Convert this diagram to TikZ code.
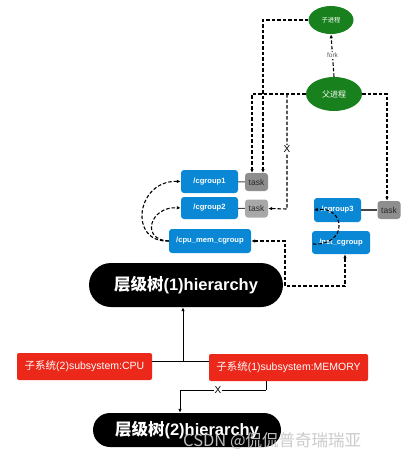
\documentclass[tikz,border=0pt]{standalone}
\usepackage{fontspec}
\setmainfont{Liberation Sans}
\newfontfamily\cjk{Noto Sans CJK SC}
\usetikzlibrary{shapes.geometric,arrows.meta}
\definecolor{cgblue}{RGB}{10,136,214}
\definecolor{pgreen}{RGB}{24,128,28}
\definecolor{ssred}{RGB}{236,40,26}
\definecolor{taskdark}{RGB}{142,142,142}
\definecolor{tasklight}{RGB}{168,168,168}
\tikzset{
  cgbox/.style={rectangle, rounded corners=3pt, fill=cgblue, text=white, inner sep=0pt,
    font=\fontsize{7.6}{10}\selectfont\bfseries},
  taskbox/.style={rectangle, rounded corners=3pt, inner sep=0pt, minimum width=23pt, minimum height=18pt,
    text={rgb,255:red,40;green,40;blue,40}, font=\fontsize{8.5}{10}\selectfont},
  proc/.style={ellipse, fill=pgreen, text=white, inner sep=0pt},
  hier/.style={rectangle, rounded corners=17pt, fill=black, text=white, inner sep=0pt,
    font=\fontsize{16.5}{19}\selectfont\bfseries},
  ssbox/.style={rectangle, rounded corners=2pt, fill=ssred, text=white, inner sep=0pt,
    minimum height=27pt, font=\fontsize{10.5}{12}\selectfont},
  dline/.style={draw=black, line width=1.1pt, dash pattern=on 3.5pt off 2pt},
  tip/.style={-{Latex[length=4pt,width=3.5pt]}},
  link/.style={draw={rgb,255:red,70;green,70;blue,70}, line width=1.1pt},
  sline/.style={draw=black, line width=0.9pt},
  xlabel/.style={fill=white, inner sep=1pt, font=\fontsize{10}{12}\selectfont}
}
\begin{document}
\begin{tikzpicture}[x=1pt,y=-1pt]
\useasboundingbox (0,0) rectangle (410,461);
% processes
\node[proc, minimum width=45pt, minimum height=28pt, font=\cjk\fontsize{6.3}{7}\selectfont] (child) at (331,20) {子进程};
\node[proc, minimum width=56pt, minimum height=34pt, font=\cjk\fontsize{8}{9}\selectfont] (parent) at (334,94) {父进程};
% cgroups
\node[cgbox, minimum width=57pt, minimum height=23pt] (cg1) at (209.5,181.5) {/cgroup1};
\node[taskbox, fill=taskdark] (t1) at (256.5,182) {task};
\node[cgbox, minimum width=57pt, minimum height=22pt] (cg2) at (209.5,208) {/cgroup2};
\node[taskbox, fill=tasklight] (t2) at (256.5,208.5) {task};
\node[cgbox, minimum width=82pt, minimum height=24pt] (cpumem) at (210,241) {/cpu\_mem\_cgroup};
\node[cgbox, minimum width=47pt, minimum height=24pt] (cg3) at (337.5,210) {/cgroup3};
\node[taskbox, fill=taskdark] (t3) at (389,210) {task};
\node[cgbox, minimum width=58pt, minimum height=23pt] (net) at (341,242.5) {/net\_cgroup};
% task links
\draw[link] (cg1) -- (t1);
\draw[link] (cg2) -- (t2);
\draw[link] (cg3) -- (t3);
% hierarchies
\node[hier, minimum width=194pt, minimum height=44pt, rounded corners=22pt] (h1) at (186,285) {{\cjk 层级树}(1)hierarchy};
\node[hier, minimum width=188pt, minimum height=34pt] (h2) at (187,430) {{\cjk 层级树}(2)hierarchy};
% subsystems
\node[ssbox, minimum width=135pt] (cpu) at (84.5,366.5) {{\cjk 子系统}(2)subsystem:CPU};
\node[ssbox, minimum width=159pt] (mem) at (288.5,367.5) {{\cjk 子系统}(1)subsystem:MEMORY};
% fork
\draw[dline, tip] (parent.north) -- node[fill=white, inner sep=1pt, text={rgb,255:red,90;green,90;blue,90}, font=\fontsize{6.5}{8}\selectfont] {fork} (child.south);
% process to tasks
\coordinate (c1) at (263,20);
\coordinate (c2) at (252,94);
\coordinate (c3) at (287,94);
\coordinate (c4) at (287,209);
\coordinate (c5) at (387,94);
\draw[dline, tip] (child.west) -- (c1) -- (263,173);
\draw[dline, tip] (parent.west) -- (c2) -- (252,173);
\draw[dline, tip] (c3) -- node[xlabel, pos=0.48] {X} (c4) -- (t2.east);
\draw[dline, tip] (parent.east) -- (c5) -- (c5 |- t3.north);
% cgroup hierarchy curves
\draw[dline, tip] (cpumem.west) .. controls (128,243) and (136,180) .. (cg1.west);
\draw[dline, tip] (cpumem.west) .. controls (140,240) and (150,206) .. (cg2.west);
\draw[dline, tip] (313,244) .. controls (348,246) and (346,206) .. (cg3.west);
% cpu_mem <-> net
\coordinate (d1) at (285,241);
\coordinate (d2) at (285,286);
\coordinate (d3) at (345,286);
\draw[dline, {Latex[length=4pt,width=3.5pt]}-{Latex[length=4pt,width=3.5pt]}] (cpumem.east) -- (d1) -- (d2) -- (d3) -- (d3 |- net.south);
% subsystem links
\coordinate (j) at (183,361);
\draw[sline] (cpu.east |- j) -- (mem.west |- j);
\draw[sline, tip] (j) -- (j |- h1.south);
\coordinate (m1) at (266,390);
\coordinate (m2) at (180,390);
\draw[sline] (266,381) -- (m1);
\draw[sline, tip] (m1) -- node[xlabel, pos=0.56, inner sep=0.5pt] {X} (m2) -- (m2 |- h2.north);
% watermark
\node[text={rgb,255:red,200;green,200;blue,200}, opacity=0.95, font=\cjk\fontsize{16.5}{18}\selectfont, anchor=west, inner sep=0pt] (wm) at (183,441) {CSDN @侃侃普奇瑞瑞亚};
\end{tikzpicture}
\end{document}
